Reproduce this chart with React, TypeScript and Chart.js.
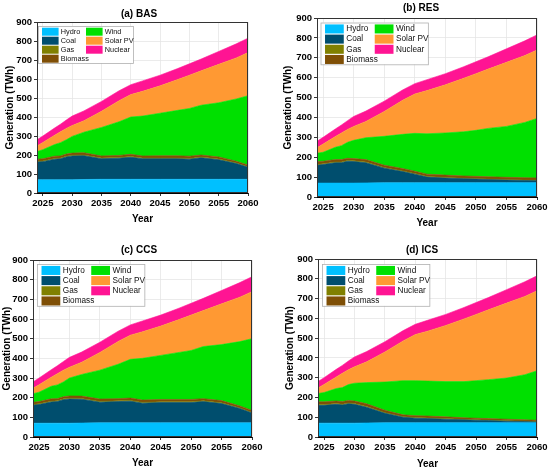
import { useEffect, useRef } from 'react'
import { Chart, registerables } from 'chart.js'

Chart.register(...registerables)

const years = [2024, 2025, 2027, 2028, 2029, 2030, 2032, 2035, 2038, 2040, 2042, 2045, 2048, 2050, 2052, 2055, 2058, 2060]
const xTicks = [2025, 2030, 2035, 2040, 2045, 2050, 2055, 2060]
const yTicks = [0, 100, 200, 300, 400, 500, 600, 700, 800, 900]

const seriesNames = ['Hydro', 'Coal', 'Gas', 'Biomass', 'Wind', 'Solar PV', 'Nuclear']
const seriesColors = ['#00C0FF', '#004E6E', '#808000', '#7F4F06', '#00E000', '#FF9933', '#FF1493']

// shared by all scenarios
const hydro = [70, 70, 70, 70, 70, 70, 71, 72, 72, 72, 72, 72, 72, 72, 72, 72, 72, 72]
const nuclear = [32, 34, 38, 40, 44, 50, 52, 52, 52, 52, 55, 56, 58, 60, 62, 68, 74, 76]

// (a) BAS
const basCoal = [93, 95, 108, 110, 120, 125, 125, 108, 111, 116, 108, 108, 108, 106, 113, 103, 83, 63]
const basGas = [4, 4, 4, 4, 4, 4, 4, 4, 4, 4, 4, 4, 4, 4, 4, 4, 3, 3]
const basBiomass = [11, 11, 12, 11, 11, 11, 12, 11, 11, 12, 11, 12, 12, 12, 11, 11, 9, 9]
const basWind = [40, 48, 61, 70, 75, 88, 108, 150, 177, 196, 210, 224, 239, 251, 262, 285, 328, 365]
const basSolar = [30, 38, 49, 57, 60, 57, 60, 85, 111, 118, 130, 144, 162, 175, 181, 202, 216, 227]

// (b) RES
const resCoal = [90, 93, 102, 102, 110, 108, 101, 73, 56, 43, 28, 23, 20, 18, 16, 13, 11, 10]
const resGas = [4, 4, 4, 4, 4, 4, 4, 3, 3, 3, 3, 3, 2, 2, 2, 2, 2, 2]
const resBiomass = [14, 13, 12, 12, 11, 11, 12, 12, 12, 12, 12, 12, 12, 12, 12, 12, 12, 12]
const resWind = [42, 45, 62, 70, 80, 92, 110, 145, 172, 190, 203, 212, 222, 231, 243, 256, 278, 299]
const resSolar = [28, 41, 54, 64, 65, 70, 82, 125, 171, 198, 217, 242, 269, 285, 298, 322, 336, 344]

// (c) CCS
const ccsCoal = [92, 95, 108, 110, 120, 123, 121, 105, 108, 110, 100, 103, 103, 103, 108, 98, 73, 50]
const ccsGas = [4, 4, 4, 4, 4, 4, 4, 4, 4, 4, 4, 4, 4, 4, 4, 4, 3, 3]
const ccsBiomass = [11, 11, 12, 11, 11, 12, 12, 12, 11, 12, 12, 12, 12, 12, 11, 11, 10, 10]
const ccsWind = [43, 48, 64, 70, 75, 91, 110, 147, 175, 197, 212, 224, 239, 249, 265, 285, 327, 365]
const ccsSolar = [28, 38, 46, 57, 60, 55, 62, 90, 116, 123, 135, 149, 167, 180, 183, 207, 226, 239]

// (d) ICS
const icsCoal = [90, 90, 95, 92, 98, 95, 79, 48, 28, 23, 21, 18, 15, 13, 11, 8, 6, 4]
const icsGas = [4, 4, 4, 4, 4, 4, 4, 3, 3, 3, 3, 3, 2, 2, 2, 2, 2, 2]
const icsBiomass = [14, 14, 13, 13, 13, 13, 14, 12, 9, 10, 10, 9, 8, 8, 8, 8, 7, 7]
const icsWind = [42, 47, 63, 71, 80, 90, 107, 143, 173, 177, 177, 178, 183, 190, 197, 208, 228, 250]
const icsSolar = [28, 41, 59, 72, 75, 83, 105, 152, 201, 233, 252, 284, 317, 335, 353, 379, 396, 404]

const family = "'Liberation Sans', Arial, sans-serif"

type Geo = {
  x: number; y: number; w: number; h: number
  l: number; r: number; t: number; b: number
  titleX: number; titleY: number
  yTitlePad: number; xTitlePad: number
  lgScale: number; lgDx: number; lgDy: number
}

type PanelProps = {
  title: string
  values: number[][]
  geo: Geo
}

function Panel({ title, values, geo: g }: PanelProps) {
  const canvasRef = useRef<HTMLCanvasElement>(null)

  useEffect(() => {
    if (!canvasRef.current) return

    const decor = {
      id: 'decor',
      afterDatasetsDraw(c: Chart) {
        const { ctx, chartArea: a } = c
        ctx.save()
        // frame round the plot
        ctx.strokeStyle = '#333'
        ctx.lineWidth = 1
        ctx.strokeRect(a.left + 0.5, a.top + 0.5, a.right - a.left - 1, a.bottom - a.top - 1)

        // legend box, two columns
        const s = g.lgScale
        const lx = a.left + g.lgDx
        const ly = a.top + g.lgDy
        ctx.fillStyle = '#fff'
        ctx.fillRect(lx, ly, 95 * s, 37 * s)
        ctx.strokeStyle = '#b0b0b0'
        ctx.lineWidth = 0.8
        ctx.strokeRect(lx + 0.5, ly + 0.5, 95 * s, 37 * s)
        ctx.font = `${7.3 * s}px ${family}`
        ctx.textBaseline = 'middle'
        ctx.textAlign = 'left'
        seriesNames.forEach((name, i) => {
          const col = i < 4 ? 0 : 1
          const row = i < 4 ? i : i - 4
          const sx = lx + (col ? 48 : 4) * s
          const cy = ly + (5.7 + row * 9) * s
          ctx.fillStyle = seriesColors[i]
          ctx.fillRect(sx, cy - 4 * s, 16.6 * s, 8 * s)
          ctx.fillStyle = '#111'
          ctx.fillText(name, sx + 18.8 * s, cy)
        })
        ctx.restore()
      },
      afterDraw(c: Chart) {
        const ctx = c.ctx
        ctx.save()
        ctx.font = `bold 10px ${family}`
        ctx.fillStyle = '#000'
        ctx.textAlign = 'center'
        ctx.textBaseline = 'middle'
        ctx.fillText(title, g.titleX, g.titleY)
        ctx.restore()
      },
    }

    const tickFont = { family, size: 9.5, weight: 'bold' as const }
    const titleFont = { family, size: 10, weight: 'bold' as const }

    const chart = new Chart(canvasRef.current, {
      type: 'line',
      data: {
        datasets: seriesNames.map((name, i) => ({
          label: name,
          data: years.map((yr, j) => ({ x: yr, y: values[i][j] })),
          backgroundColor: seriesColors[i],
          borderColor: seriesColors[i],
          borderWidth: 0.6,
          pointRadius: 0,
          tension: 0,
          fill: i === 0 ? 'origin' : '-1',
        })),
      },
      options: {
        responsive: false,
        animation: false,
        layout: { padding: { left: 0, top: g.t, right: g.w - g.r, bottom: 0 } },
        plugins: {
          legend: { display: false },
          tooltip: { enabled: false },
        },
        scales: {
          x: {
            type: 'linear',
            min: 2024,
            max: 2060,
            afterBuildTicks: (s: any) => { s.ticks = xTicks.map(v => ({ value: v })) },
            afterFit: (s: any) => { s.height = g.h - g.b },
            ticks: { font: tickFont, color: '#000', padding: 2, maxRotation: 0, autoSkip: false, callback: (v: any) => String(v) },
            grid: { color: '#e6e6e6', lineWidth: 0.8, tickLength: 3, tickColor: '#000' },
            border: { color: '#000', width: 1 },
            title: { display: true, text: 'Year', font: titleFont, color: '#000', padding: { top: 0, bottom: g.xTitlePad } },
          },
          y: {
            stacked: true,
            min: 0,
            max: 900,
            afterBuildTicks: (s: any) => { s.ticks = yTicks.map(v => ({ value: v })) },
            afterFit: (s: any) => { s.width = g.l },
            ticks: { font: tickFont, color: '#000', padding: 2, callback: (v: any) => String(v) },
            grid: { color: '#e6e6e6', lineWidth: 0.8, tickLength: 3, tickColor: '#000' },
            border: { color: '#000', width: 1 },
            title: { display: true, text: 'Generation (TWh)', font: titleFont, color: '#000', padding: { top: g.yTitlePad, bottom: 0 } },
          },
        },
      },
      plugins: [decor],
    })

    return () => chart.destroy()
  }, [])

  return (
    <canvas
      ref={canvasRef}
      width={g.w}
      height={g.h}
      style={{ position: 'absolute', left: g.x, top: g.y, width: g.w, height: g.h }}
    />
  )
}

const geoA: Geo = { x: 0, y: 0, w: 265, h: 232, l: 37, r: 248, t: 22, b: 193, titleX: 139, titleY: 14, yTitlePad: 4, xTitlePad: 7, lgScale: 1, lgDx: 1, lgDy: 4 }
const geoB: Geo = { x: 275, y: 0, w: 275, h: 235, l: 42, r: 262, t: 18, b: 197, titleX: 146, titleY: 8, yTitlePad: 7, xTitlePad: 6, lgScale: 1.13, lgDx: 3.5, lgDy: 4.5 }
const geoC: Geo = { x: 0, y: 235, w: 265, h: 236, l: 33, r: 252, t: 25, b: 202, titleX: 139, titleY: 15, yTitlePad: 1, xTitlePad: 2, lgScale: 1.13, lgDx: 4, lgDy: 4 }
const geoD: Geo = { x: 275, y: 235, w: 275, h: 236, l: 43, r: 262, t: 24, b: 202, titleX: 147, titleY: 15, yTitlePad: 9, xTitlePad: 1, lgScale: 1.13, lgDx: 4, lgDy: 5 }

export default function App() {
  return (
    <div style={{ position: 'absolute', left: 0, top: 0, width: 550, height: 471, background: '#fff' }}>
      <Panel title="(a) BAS" geo={geoA} values={[hydro, basCoal, basGas, basBiomass, basWind, basSolar, nuclear]} />
      <Panel title="(b) RES" geo={geoB} values={[hydro, resCoal, resGas, resBiomass, resWind, resSolar, nuclear]} />
      <Panel title="(c) CCS" geo={geoC} values={[hydro, ccsCoal, ccsGas, ccsBiomass, ccsWind, ccsSolar, nuclear]} />
      <Panel title="(d) ICS" geo={geoD} values={[hydro, icsCoal, icsGas, icsBiomass, icsWind, icsSolar, nuclear]} />
    </div>
  )
}
